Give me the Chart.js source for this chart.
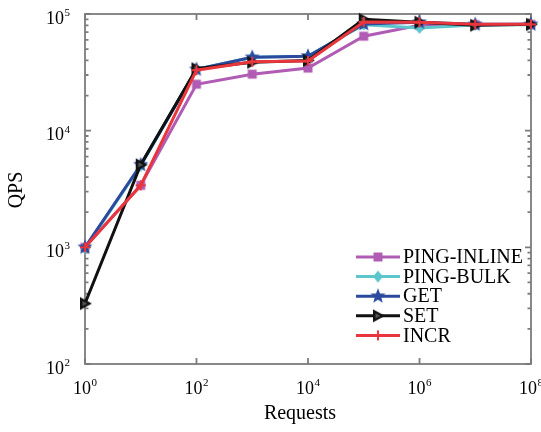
<!DOCTYPE html>
<html>
<head>
<meta charset="utf-8">
<script src="https://cdn.jsdelivr.net/npm/chart.js@4/dist/chart.umd.min.js"></script>
<style>
html,body{margin:0;padding:0;background:#fff;}
#wrap{width:541px;height:432px;}
</style>
</head>
<body>
<div id="wrap"><canvas id="c" width="541" height="432"></canvas></div>
<script>
// ---- data ----
const requests = [1, 10, 100, 1e3, 1e4, 1e5, 1e6, 1e7, 1e8];
const pingInline = [1000, 3400, 25000, 30500, 34400, 64500, 80000, 81000, 81500];
const pingBulk   = [980, 5000, 33500, 42500, 43500, 81000, 76000, 80500, 81000];
const getQps     = [1000, 5100, 33500, 42500, 43500, 82000, 85000, 81500, 81500];
const setQps     = [330, 5100, 34000, 38500, 40000, 90000, 85000, 80000, 81500];
const incrQps    = [1000, 3400, 33000, 39000, 39500, 85500, 85000, 81500, 81500];
const seriesNames = ['PING-INLINE', 'PING-BULK', 'GET', 'SET', 'INCR'];
const xTickValues = [1, 1e2, 1e4, 1e6, 1e8];
const yTickValues = [1e2, 1e3, 1e4, 1e5];
const xTitle = 'Requests';
const yTitle = 'QPS';

// ---- marker images ----
function marker(type, color){
  const s = 18, c = document.createElement('canvas');
  c.width = s; c.height = s;
  const g = c.getContext('2d');
  g.translate(s/2, s/2);
  g.fillStyle = color; g.strokeStyle = color; g.lineWidth = 2;
  g.beginPath();
  if (type === 'square'){
    g.rect(-4.5,-4.5,9,9); g.fill();
  } else if (type === 'diamond'){
    g.moveTo(0,-6); g.lineTo(5,0); g.lineTo(0,6); g.lineTo(-5,0); g.closePath(); g.fill();
  } else if (type === 'star'){
    for (let i=0;i<10;i++){
      const r = i%2===0 ? 8 : 3.4;
      const a = -Math.PI/2 + i*Math.PI/5;
      const px = r*Math.cos(a), py = r*Math.sin(a);
      if (i===0) g.moveTo(px,py); else g.lineTo(px,py);
    }
    g.closePath(); g.fill();
  } else if (type === 'tri'){
    g.moveTo(-5,-6.5); g.lineTo(7,0); g.lineTo(-5,6.5); g.closePath();
    g.fill();
    g.fillStyle = '#555';
    g.beginPath(); g.moveTo(-2.5,-2.5); g.lineTo(2.5,0); g.lineTo(-2.5,2.5); g.closePath(); g.fill();
  } else if (type === 'plus'){
    g.lineWidth = 2;
    g.moveTo(-5,0); g.lineTo(5,0); g.moveTo(0,-5); g.lineTo(0,5); g.stroke();
  }
  return c;
}

const colors = ['#b05cb4', '#5cc6cc', '#2b4a9e', '#111111', '#e8363c'];
const markerTypes = ['square', 'diamond', 'star', 'tri', 'plus'];
const valueSets = [pingInline, pingBulk, getQps, setQps, incrQps];
const markers = markerTypes.map((t,i)=>marker(t, colors[i]));

const datasets = seriesNames.map((name, i) => ({
  label: name,
  data: requests.map((x, j) => ({x: x, y: valueSets[i][j]})),
  borderColor: colors[i],
  backgroundColor: colors[i],
  borderWidth: 3,
  pointStyle: markers[i],
  pointRadius: 6,
  tension: 0,
  clip: 12,
  order: 5 - i
}));

const FONT = 'Liberation Serif';

function drawPow(ctx, v, x, y, align){
  const e = String(Math.round(Math.log10(v)));
  ctx.font = '18px "' + FONT + '"';
  const wb = ctx.measureText('10').width;
  ctx.font = '11px "' + FONT + '"';
  const we = ctx.measureText(e).width;
  const total = wb + we + 0.5;
  let left = align === 'right' ? x - total : x - total / 2;
  ctx.textAlign = 'left';
  ctx.textBaseline = 'middle';
  ctx.font = '18px "' + FONT + '"';
  ctx.fillText('10', left, y);
  ctx.font = '11px "' + FONT + '"';
  ctx.fillText(e, left + wb + 0.5, y - 6);
}

const framePlugin = {
  id: 'frame',
  beforeDatasetsDraw(chart){
    const {ctx, chartArea: a, scales: {x, y}} = chart;
    ctx.save();
    ctx.strokeStyle = '#7c7c7c';
    ctx.lineWidth = 1.8;
    ctx.strokeRect(a.left, a.top, a.right - a.left, a.bottom - a.top);
    ctx.beginPath();
    xTickValues.forEach(v => {
      const px = x.getPixelForValue(v);
      ctx.moveTo(px, a.bottom); ctx.lineTo(px, a.bottom - 6);
      ctx.moveTo(px, a.top); ctx.lineTo(px, a.top + 6);
    });
    for (let k = 2; k <= 5; k++){
      for (let m = 1; m <= 9; m++){
        const v = m * Math.pow(10, k);
        if (v > 1e5) break;
        const py = y.getPixelForValue(v);
        const len = m === 1 ? 6 : 3.5;
        ctx.moveTo(a.left, py); ctx.lineTo(a.left + len, py);
        ctx.moveTo(a.right, py); ctx.lineTo(a.right - len, py);
      }
    }
    ctx.stroke();
    ctx.fillStyle = '#000';
    yTickValues.forEach(v => drawPow(ctx, v, a.left - 15, y.getPixelForValue(v) + 5, 'right'));
    xTickValues.forEach(v => drawPow(ctx, v, x.getPixelForValue(v), a.bottom + 25, 'center'));
    // axis titles
    ctx.font = '20px "' + FONT + '"';
    ctx.textAlign = 'center';
    ctx.textBaseline = 'middle';
    ctx.fillText(xTitle, 300, 414);
    ctx.translate(17, 190);
    ctx.rotate(-Math.PI / 2);
    ctx.fillText(yTitle, 0, 0);
    ctx.restore();
  }
};

const legendPlugin = {
  id: 'boxLegend',
  afterDatasetsDraw(chart){
    const {ctx} = chart;
    ctx.save();
    ctx.font = '20px "' + FONT + '"';
    ctx.textBaseline = 'middle';
    ctx.textAlign = 'left';
    const x0 = 356, x1 = 400, y0 = 257, dy = 19.6;
    chart.data.datasets.forEach((ds, i) => {
      const yy = y0 + i * dy;
      ctx.strokeStyle = ds.borderColor;
      ctx.lineWidth = 3;
      ctx.beginPath(); ctx.moveTo(x0, yy); ctx.lineTo(x1, yy); ctx.stroke();
      const img = ds.pointStyle;
      ctx.drawImage(img, (x0 + x1)/2 - img.width/2, yy - img.height/2);
      ctx.fillStyle = '#000';
      ctx.fillText(ds.label, x1 + 3, yy + 1);
    });
    ctx.restore();
  }
};

new Chart(document.getElementById('c'), {
  type: 'line',
  data: { datasets },
  options: {
    responsive: false,
    animation: false,
    devicePixelRatio: 1,
    layout: { autoPadding: false, padding: { top: 14, right: 10, left: 0, bottom: 0 } },
    plugins: { legend: { display: false }, tooltip: { enabled: false } },
    scales: {
      x: {
        type: 'logarithmic',
        min: 1, max: 1e8,
        afterBuildTicks: s => { s.ticks = xTickValues.map(v => ({value: v})); },
        afterFit: s => { s.height = 68; },
        grid: { display: false, drawTicks: false },
        border: { display: false },
        ticks: { display: false },
        title: { display: false }
      },
      y: {
        type: 'logarithmic',
        min: 1e2, max: 1e5,
        afterBuildTicks: s => { s.ticks = yTickValues.map(v => ({value: v})); },
        afterFit: s => { s.width = 85; },
        grid: { display: false, drawTicks: false },
        border: { display: false },
        ticks: { display: false },
        title: { display: false }
      }
    }
  },
  plugins: [framePlugin, legendPlugin]
});
</script>
</body>
</html>
